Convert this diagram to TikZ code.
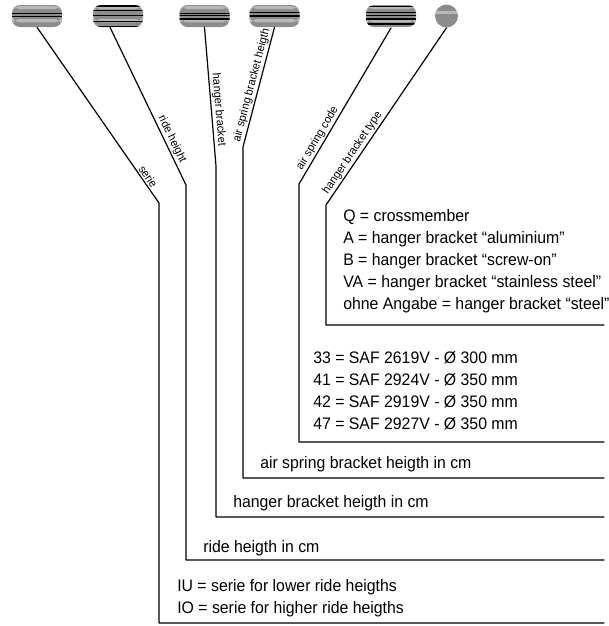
\documentclass[tikz,border=0pt]{standalone}
\usepackage{fontspec}
\setmainfont{Liberation Sans}[FakeStretch=0.95]
\usetikzlibrary{calc}
\definecolor{pillgray}{HTML}{8C8C8C}
\definecolor{pilllight}{HTML}{B8B8B8}
\tikzset{
    lab/.style={
        font=\fontsize{8.6}{10}\selectfont, inner sep=1pt
    },
    txt/.style={
        font=\fontsize{12.5}{15}\selectfont, anchor=base west, inner sep=0pt
    },
    lead/.style={line width=0.9pt},
    pill/.style={
        minimum width=37.5pt, minimum height=16.5pt, inner sep=0pt,
        rounded corners=6pt, fill=pillgray
    },
    stripes/.style={
        path picture={
            \fill[pilllight] ([yshift=-0.8pt]path picture bounding box.north west)
                rectangle ([yshift=-3pt]path picture bounding box.north east);
            \fill[pilllight] ([yshift=-10.5pt]path picture bounding box.north west)
                rectangle ([yshift=-13pt]path picture bounding box.north east);
            \foreach \s in {#1} {
                \draw[line width=0.9pt]
                    ([yshift=-\s*0.75pt]path picture bounding box.north west) --
                    ([yshift=-\s*0.75pt]path picture bounding box.north east);
            }
        }
    }
}

\begin{document}
\begin{tikzpicture}[x=0.75pt,y=0.75pt, line cap=round, line join=round]

\useasboundingbox (0,0) rectangle (609,-626);

% pills
\node[pill, stripes={8.3,11.7}] (serie) at (37,-16) {};
\node[pill, stripes={1,5.7,10.7,16.7,21.5}] (ride) at (118,-16) {};
\node[pill, stripes={8.3,10.8,14}] (hanger) at (204.5,-16) {};
\node[pill, stripes={7.7,11}] (asb) at (274.5,-16) {};
\node[pill, stripes={1.7,7.3,10.7,14,19}, line width=1.4pt] (code) at (391,-16) {};
\node[circle, minimum size=17.25pt, inner sep=0pt, fill=pillgray,
      path picture={\fill[pilllight] ([yshift=-5pt]path picture bounding box.north west)
          rectangle ([yshift=-7pt]path picture bounding box.north east);}] (type) at (446.5,-16) {};

% bends and corners
\coordinate (serie-b) at (159,-203);
\coordinate (serie-e) at (159,-623);
\coordinate (serie-r) at (604,-623);
\coordinate (ride-b) at (186,-185);
\coordinate (ride-e) at (186,-560);
\coordinate (ride-r) at (604,-560);
\coordinate (hanger-b) at (216,-166);
\coordinate (hanger-e) at (216,-517);
\coordinate (hanger-r) at (604,-517);
\coordinate (asb-b) at (243,-147);
\coordinate (asb-e) at (243,-478);
\coordinate (asb-r) at (604,-478);
\coordinate (code-b) at (299,-184);
\coordinate (code-e) at (299,-442);
\coordinate (code-r) at (604,-442);
\coordinate (type-b) at (326,-205);
\coordinate (type-e) at (326,-325);
\coordinate (type-r) at (604,-325);

% leaders
\draw[lead] (serie.south) -- node[lab, sloped, above, pos=0.87] {serie}
    (serie-b) -- (serie-e) -- (serie-r);
\draw[lead] ([xshift=-6pt]ride.south) -- node[lab, sloped, above, pos=0.73] {ride height}
    (ride-b) -- (ride-e) -- (ride-r);
\draw[lead] (hanger.south) -- node[lab, sloped, above, pos=0.6] {hanger bracket}
    (hanger-b) -- (hanger-e) -- (hanger-r);
\draw[lead] (asb.south) -- node[lab, sloped, above, pos=0.5] {air spring bracket heigth}
    (asb-b) -- (asb-e) -- (asb-r);
\draw[lead] (code.south) -- node[lab, sloped, above, pos=0.73] {air spring code}
    (code-b) -- (code-e) -- (code-r);
\draw[lead] (type.south) -- node[lab, sloped, above, pos=0.73] {hanger bracket type}
    (type-b) -- (type-e) -- (type-r);

% hanger bracket type
\foreach \t [count=\i] in {Q = crossmember,
                           A = hanger bracket “aluminium”,
                           B = hanger bracket “screw-on”,
                           VA = hanger bracket “stainless steel”,
                           ohne Angabe = hanger bracket “steel”} {
  \node[txt] (typ\i) at (343,{-221-22*(\i-1)}) {\t};
}

% air spring code
\foreach \t [count=\i] in {33 = SAF 2619V - Ø 300 mm,
                           41 = SAF 2924V - Ø 350 mm,
                           42 = SAF 2919V - Ø 350 mm,
                           47 = SAF 2927V - Ø 350 mm} {
  \node[txt] (saf\i) at (313,{-363-22*(\i-1)}) {\t};
}

\node[txt] (asbcm) at (260,-468) {air spring bracket heigth in cm};
\node[txt] (hangercm) at (233,-507) {hanger bracket heigth in cm};
\node[txt] (ridecm) at (203,-552) {ride heigth in cm};
\node[txt] (iu) at (177,-591) {IU = serie for lower ride heigths};
\node[txt] (io) at (177,-613) {IO = serie for higher ride heigths};

\end{tikzpicture}
\end{document}
